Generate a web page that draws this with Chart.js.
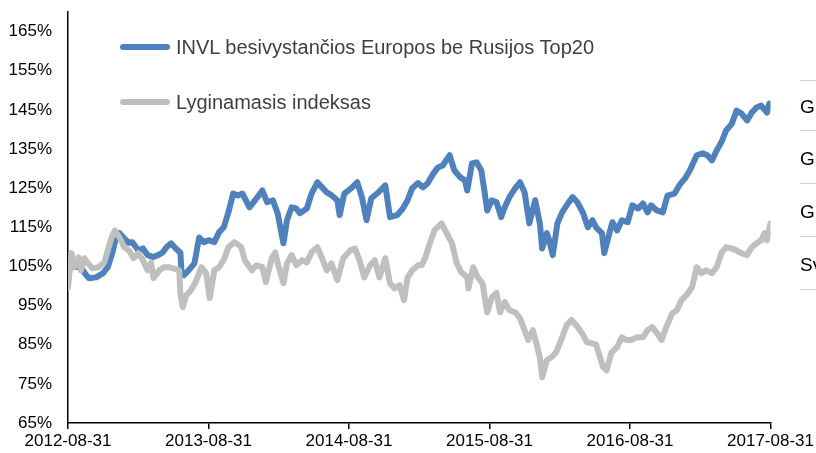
<!DOCTYPE html>
<html>
<head>
<meta charset="utf-8">
<script src="https://cdn.jsdelivr.net/npm/chart.js@4/dist/chart.umd.min.js"></script>
<style>
  html, body { margin: 0; padding: 0; background: #fff; }
  #wrap { position: relative; width: 816px; height: 453px; overflow: hidden; font-family: "Liberation Sans", Arial, sans-serif; }
  canvas { position: absolute; left: 0; top: 0; }
  .leg { position: absolute; left: 120px; height: 20px; display: flex; align-items: center; white-space: nowrap; color: #404040; font-size: 20px; }
  .leg .sw { width: 50px; height: 6px; border-radius: 3px; margin-right: 6px; }
  .rt { position: absolute; left: 800px; width: 40px; border-top: 1px solid #d0d0d0; }
  .rtx { position: absolute; left: 800px; font-size: 19px; color: #000; white-space: nowrap; line-height: 20px; }
</style>
</head>
<body>
<div id="wrap">
  <canvas id="c" width="816" height="453"></canvas>
  <div id="legend"></div>
  <div id="side"></div>
</div>
<script>
// ---- data ----
const seriesNames = ['INVL besivystančios Europos be Rusijos Top20', 'Lyginamasis indeksas'];
const xTickLabels = ['2012-08-31', '2013-08-31', '2014-08-31', '2015-08-31', '2016-08-31', '2017-08-31'];
const xTickMonths = [0, 12, 24, 36, 48, 60];
const yTickValues = [65, 75, 85, 95, 105, 115, 125, 135, 145, 155, 165];
const sideTexts = ['G', 'G', 'G', 'Sv'];

// months after 2012-08-31
const invlMonths = [0.2,0.5,1.1,1.5,1.8,2.4,3.0,3.4,3.8,4.1,4.4,4.8,5.2,5.5,6.0,6.4,6.8,7.3,7.7,8.1,8.4,8.8,9.2,9.6,9.7,9.9,10.3,10.8,11.2,11.6,12.0,12.5,12.9,13.3,13.7,14.1,14.5,14.9,15.5,16.1,16.6,17.0,17.5,17.9,18.4,18.7,19.1,19.5,19.8,20.4,20.8,21.3,21.7,22.1,22.5,23.0,23.2,23.6,24.2,24.7,25.1,25.5,25.9,26.5,27.1,27.5,28.1,28.6,29.0,29.4,29.9,30.3,30.7,31.2,31.6,32.0,32.6,33.0,33.5,33.9,34.1,34.5,34.9,35.3,35.6,35.8,36.2,36.6,37.0,37.3,37.7,38.2,38.6,39.0,39.4,39.9,40.3,40.5,40.9,41.1,41.4,41.8,42.2,42.7,43.1,43.5,44.0,44.4,44.8,45.1,45.6,45.8,46.3,46.5,46.9,47.3,47.8,48.2,48.7,49.1,49.5,49.8,50.3,50.8,51.2,51.8,52.2,52.7,53.1,53.7,54.2,54.6,55.0,55.4,55.8,56.2,56.7,57.1,57.5,58.0,58.4,58.8,59.2,59.7,59.9];
const invlValues = [104.5,105,104.8,103,102,102.2,103.3,104.8,108.6,112.4,113.5,112.2,111,111.2,109.1,109.6,107.9,107.4,107.9,108.6,109.9,110.9,109.6,108.5,103.3,102.8,104,105.8,112.4,111.2,111.7,111.2,113.7,115,118.8,123.6,123.1,123.6,120.1,122.4,124.4,121.4,121.9,118.6,110.9,116.8,120.1,119.8,118.6,119.8,123.6,126.5,125.2,123.9,123.2,121.9,118.1,123.6,125,126.5,122.7,116.8,122.4,123.9,125.7,117.6,118.1,119.8,121.9,125,126.3,125.2,126.2,128.7,130.3,130.8,133.4,129.5,127.8,127,124.4,131.3,131.6,129.5,123.6,119.3,121.9,121.4,117.6,120.1,122.7,125,126.5,123.9,116,121.9,116,109.6,113.5,111.7,107.9,116,118.8,121.1,122.7,121.4,118.6,115,116.8,115,113.5,108.4,114.2,116.3,114.2,116.8,116.3,120.6,119.8,121.1,118.8,120.6,119.3,118.8,123.1,123.6,125.7,127.5,129.5,133.4,133.9,133.4,132.1,134.6,136.7,139.7,141.5,144.8,144.1,142.3,144.3,145.6,146.1,144.3,146.6];

const benchMonths = [0,0.3,0.5,0.9,1.1,1.4,1.7,2.1,2.6,3.1,3.4,3.7,4.0,4.4,4.8,5.2,5.6,6.0,6.4,6.8,7.1,7.3,7.8,8.2,8.6,9.0,9.5,9.6,9.8,10.1,10.5,10.9,11.4,11.8,12.1,12.5,12.9,13.3,13.7,14.2,14.6,14.8,15.1,15.7,16.1,16.6,16.9,17.4,17.7,17.9,18.4,18.7,19.1,19.5,20.0,20.4,20.8,21.3,21.7,22.1,22.5,23.0,23.5,24.1,24.5,24.9,25.3,25.8,26.2,26.6,27.1,27.5,27.9,28.3,28.7,29.0,29.4,29.9,30.2,30.5,30.9,31.3,31.9,32.3,32.8,33.2,33.6,34.1,34.2,34.6,35.0,35.4,35.8,36.2,36.6,36.9,37.3,37.7,38.2,38.6,39.0,39.3,39.7,40.0,40.3,40.5,40.9,41.3,41.7,42.2,42.6,43.0,43.4,43.9,44.3,44.7,45.1,45.7,46.0,46.4,46.9,47.3,47.7,48.1,48.6,49.1,49.5,49.9,50.3,50.7,51.1,51.6,52.0,52.4,52.8,53.3,53.7,54.1,54.5,55.0,55.4,55.8,56.2,56.7,57.1,57.5,58.0,58.4,58.8,59.2,59.5,59.7,60.0];
const benchValues = [99.7,108.4,104.8,107.3,104,107.1,105.8,104.5,104.8,106,109.1,112.2,114.2,112.4,109.9,109.1,107.1,108.4,106.6,104,106,102,104,104.8,104.8,104.5,104,98,94.6,97.6,98.9,101,104.8,103.3,96.9,104,104.8,106.6,109.9,111.2,110.4,109.9,106.6,104,105.3,104.8,101,107.1,108.6,106,100.7,105.8,107.9,105.3,106.6,106,108.6,109.9,107.1,104,105.8,101.5,107.1,109.1,109.6,106.6,102.2,105.3,106.6,102.2,107.1,100.7,99.4,100.2,96.4,102.2,104,105.3,105.3,107.1,110.9,114.2,116,113.7,110.9,105.8,103.5,102.2,99.4,104.8,102.2,100.7,93.3,97.1,98.2,93.3,95.9,93.8,93.3,91.8,88.7,86.2,88.7,85.4,81.8,76.7,81.1,81.8,83.1,86.9,90,91.3,90,88,85.7,85.4,85,79.3,78.5,82.9,84.4,86.9,86.2,86.2,86.9,86.9,88.7,89.5,88,86.2,89.5,93,93.8,96.4,97.6,99.7,104.8,103.3,104,103.3,104.8,108.4,109.9,109.6,109.1,108.4,107.9,109.9,110.9,111.7,113.5,111.7,116];

// ---- styles ----
const colors = ['#4F81BD', '#BFBFBF'];
const FONT = '"Liberation Sans", Arial, sans-serif';

const toPoints = (xs, ys) => xs.map((x, i) => ({ x: x, y: ys[i] }));

new Chart(document.getElementById('c'), {
  type: 'line',
  data: {
    datasets: [
      { label: seriesNames[0], data: toPoints(invlMonths, invlValues), borderColor: colors[0], backgroundColor: colors[0], borderWidth: 6, pointRadius: 0, tension: 0, order: 1, borderJoinStyle: 'round', borderCapStyle: 'round' },
      { label: seriesNames[1], data: toPoints(benchMonths, benchValues), borderColor: colors[1], backgroundColor: colors[1], borderWidth: 6, pointRadius: 0, tension: 0, order: 0, borderJoinStyle: 'round', borderCapStyle: 'round' }
    ]
  },
  options: {
    responsive: false,
    animation: false,
    devicePixelRatio: 1,
    layout: { padding: { left: 0, right: 45, top: 12, bottom: 0 } },
    plugins: { legend: { display: false }, tooltip: { enabled: false } },
    scales: {
      x: {
        type: 'linear',
        min: 0, max: 60,
        afterBuildTicks: (s) => { s.ticks = xTickMonths.map(v => ({ value: v })); },
        afterFit: (s) => { s.height = 30; },
        ticks: {
          autoSkip: false, maxRotation: 0, padding: 2,
          color: '#000', font: { family: FONT, size: 17 },
          callback: (v) => xTickLabels[xTickMonths.indexOf(v)]
        },
        grid: { display: true, drawOnChartArea: false, drawTicks: true, tickLength: 6, color: '#000', lineWidth: 1.5 },
        border: { display: true, color: '#000', width: 1.5 }
      },
      y: {
        type: 'linear',
        min: 65, max: 170,
        afterBuildTicks: (s) => { s.ticks = yTickValues.map(v => ({ value: v })); },
        afterFit: (s) => { s.width = 68; s.paddingTop = 0; },
        ticks: {
          padding: 16, color: '#000', font: { family: FONT, size: 17 },
          callback: (v) => v + '%'
        },
        grid: { display: false, drawTicks: false },
        border: { display: true, color: '#000', width: 1.5 }
      }
    }
  }
});

// ---- legend (HTML text) ----
const legendTops = [37, 92];
const legend = document.getElementById('legend');
seriesNames.forEach((name, i) => {
  const d = document.createElement('div');
  d.className = 'leg';
  d.style.top = legendTops[i] + 'px';
  const sw = document.createElement('span');
  sw.className = 'sw';
  sw.style.background = colors[i];
  const t = document.createElement('span');
  t.textContent = name;
  d.appendChild(sw); d.appendChild(t);
  legend.appendChild(d);
});

// ---- partial side table ----
const side = document.getElementById('side');
const lineTops = [80, 130, 183, 236, 289];
lineTops.forEach(y => {
  const l = document.createElement('div');
  l.className = 'rt'; l.style.top = y + 'px';
  side.appendChild(l);
});
sideTexts.forEach((s, i) => {
  const t = document.createElement('div');
  t.className = 'rtx';
  t.style.top = (lineTops[i] + (lineTops[i + 1] - lineTops[i]) / 2 - 8) + 'px';
  t.textContent = s;
  side.appendChild(t);
});
</script>
</body>
</html>
